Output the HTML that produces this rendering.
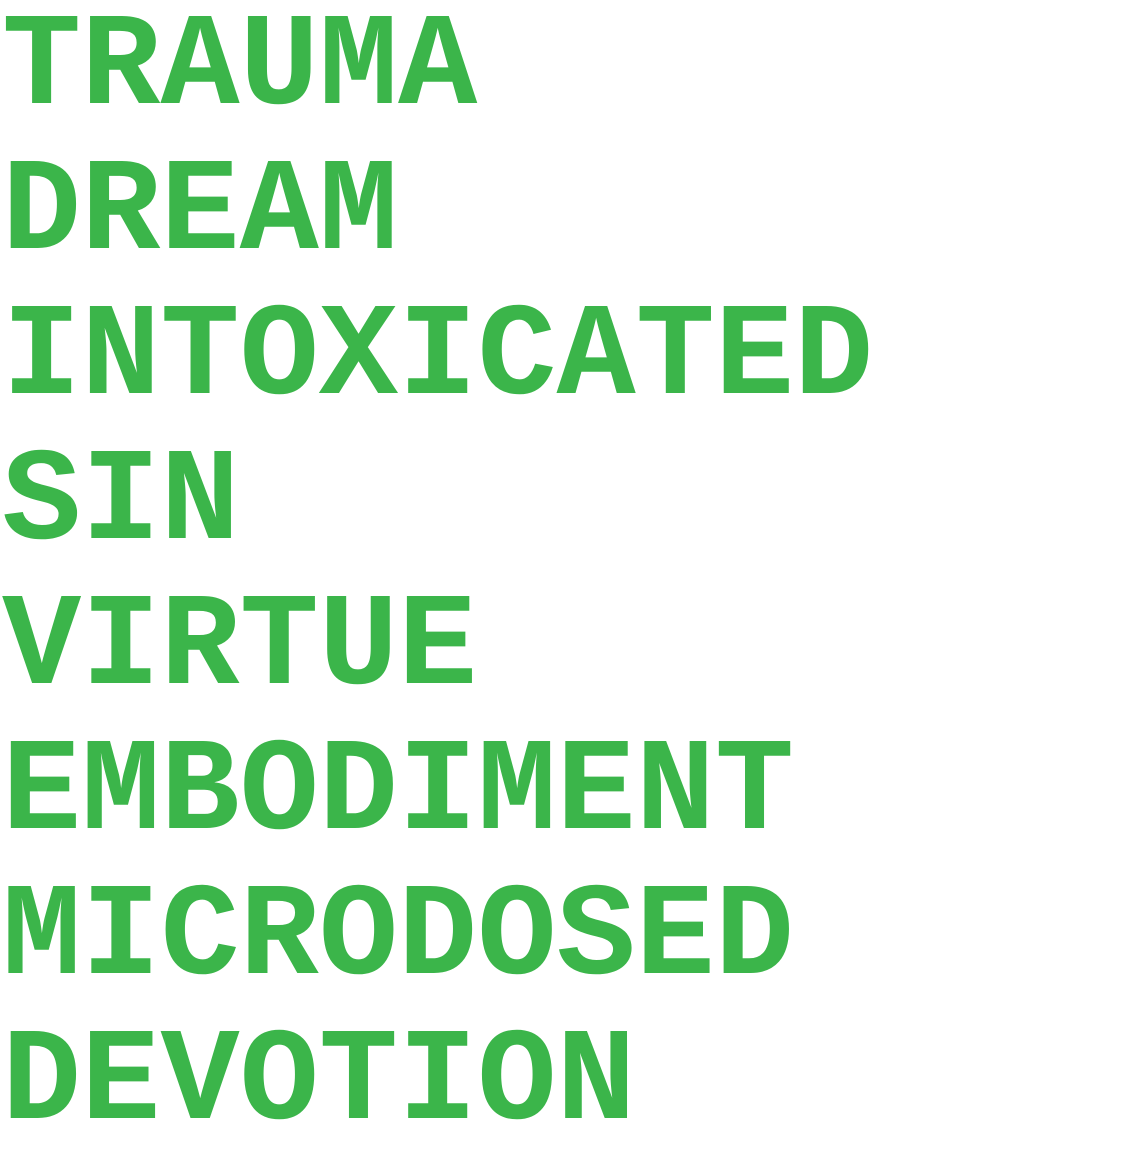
<!DOCTYPE html>
<html>
<head>
<meta charset="utf-8">
<style>
html,body{margin:0;padding:0;background:#fff;width:1133px;height:1146px;overflow:hidden;}
.t{position:absolute;left:0;top:-4px;padding-left:2px;font-family:"Liberation Mono",monospace;font-weight:bold;font-size:132px;line-height:145px;color:#3bb54a;white-space:pre;}
</style>
</head>
<body>
<div class="t">TRAUMA
DREAM
INTOXICATED
SIN
VIRTUE
EMBODIMENT
MICRODOSED
DEVOTION</div>
</body>
</html>
